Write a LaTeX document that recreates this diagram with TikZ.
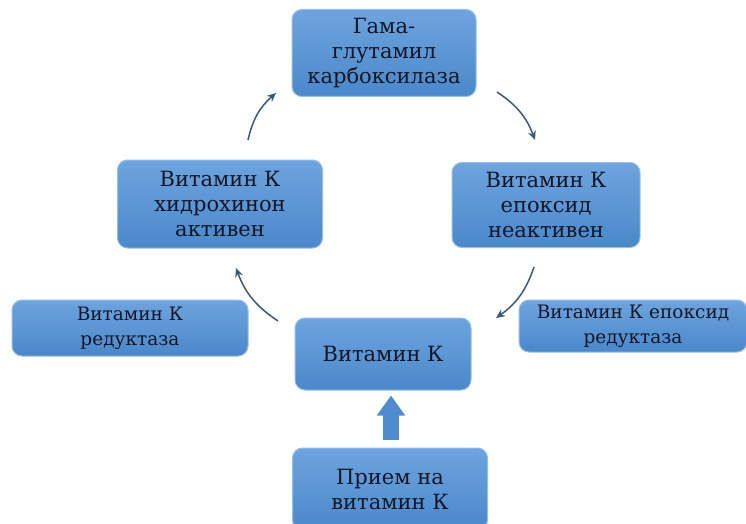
\documentclass[tikz,border=0pt]{standalone}
\usepackage{fontspec}
\setmainfont{DejaVu Serif}
\usetikzlibrary{arrows.meta,calc}
\definecolor{boxtop}{RGB}{110,164,222}
\definecolor{boxbot}{RGB}{74,136,202}
\definecolor{boxedge}{RGB}{150,190,230}
\definecolor{txt}{RGB}{18,22,40}
\definecolor{arr}{RGB}{60,88,120}
\definecolor{blockarr}{RGB}{80,140,205}
\tikzset{
  box/.style={draw=boxedge, line width=1pt, top color=boxtop, bottom color=boxbot,
    rounded corners=10pt, align=center, text=txt, inner sep=0pt,
    font=\fontsize{21}{25}\selectfont},
  smallbox/.style={box, font=\fontsize{18.5}{25}\selectfont},
  cyc/.style={draw=arr, line width=1.5pt, -{Stealth[length=9pt,width=8pt]}, bend left=18}
}
\begin{document}
\begin{tikzpicture}[x=1pt,y=-1pt]
\useasboundingbox (0,0) rectangle (746,524);
\node[box, minimum width=184pt, minimum height=87pt] (gg) at (384,53) {Гама-\\глутамил\\карбоксилаза};
\node[box, minimum width=205pt, minimum height=88pt] (hq) at (220,204) {Витамин К\\хидрохинон\\активен};
\node[box, minimum width=188pt, minimum height=85pt] (ep) at (546,205) {Витамин К\\епоксид\\неактивен};
\node[box, minimum width=176pt, minimum height=72pt] (vk) at (383,354) {Витамин К};
\node[box, minimum width=195pt, minimum height=82pt] (in) at (390,489) {Прием на\\витамин К};
\node[smallbox, minimum width=236pt, minimum height=56pt] (red) at (130,328) {Витамин К\\редуктаза};
\node[smallbox, minimum width=228pt, minimum height=52pt] (ered) at (633,326) {Витамин К епоксид\\редуктаза};
\coordinate (a1s) at (248,140); \coordinate (a1e) at (276,93);
\coordinate (a2s) at (497,92);  \coordinate (a2e) at (535,140);
\coordinate (a3s) at (534,267); \coordinate (a3e) at (496,318);
\coordinate (a4s) at (278,321); \coordinate (a4e) at (236,268);
\draw[cyc] (a1s) to (a1e);
\draw[cyc] (a2s) to (a2e);
\draw[cyc] (a3s) to (a3e);
\draw[cyc] (a4s) to (a4e);
\draw[blockarr, line width=16pt, -{Triangle[width=27pt,length=20pt]}, shorten <=8pt, shorten >=5pt]
  (in.north -| 391,0) -- (vk.south -| 391,0);
\end{tikzpicture}
\end{document}
